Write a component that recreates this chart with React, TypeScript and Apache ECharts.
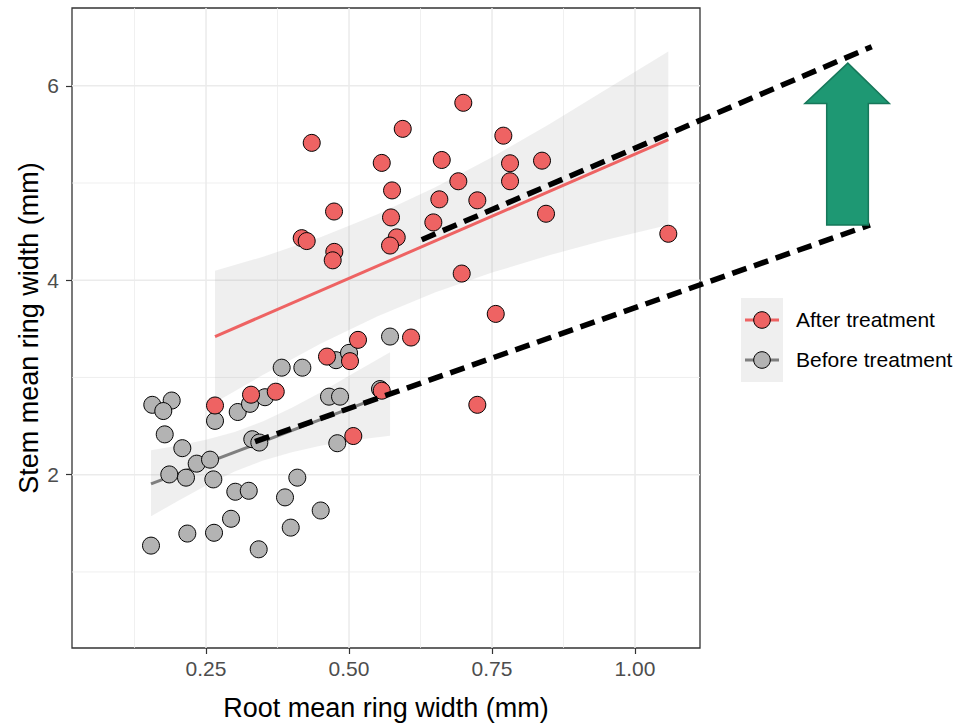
import React, { useEffect, useRef } from "react";
import * as echarts from "echarts";

// ---- Data ----
const afterX = [0.4348, 0.5939, 0.6998, 0.5572, 0.6621, 0.7698, 0.7815, 0.8374, 0.6911, 0.7815, 0.5752, 0.6579, 0.7243, 0.4738, 0.5734, 0.6474, 0.8444, 0.4173, 0.426, 0.5834, 0.5717, 0.4743, 0.4715, 0.697, 0.7565, 0.6084, 0.5157, 0.5017, 0.4615, 0.5572, 0.5075, 0.3719, 0.3287, 0.2657, 1.0582, 0.7243];
const afterY = [5.413, 5.557, 5.825, 5.207, 5.237, 5.487, 5.203, 5.23, 5.018, 5.018, 4.924, 4.832, 4.822, 4.707, 4.646, 4.595, 4.684, 4.433, 4.403, 4.441, 4.357, 4.292, 4.205, 4.069, 3.654, 3.411, 3.387, 3.168, 3.215, 2.864, 2.398, 2.854, 2.823, 2.712, 4.478, 2.719];

const beforeX = [0.1561, 0.19, 0.1753, 0.2657, 0.1778, 0.2086, 0.2337, 0.257, 0.1858, 0.215, 0.2628, 0.3054, 0.3269, 0.3531, 0.3823, 0.4184, 0.4773, 0.5, 0.5717, 0.465, 0.4843, 0.5542, 0.3309, 0.3432, 0.4795, 0.4096, 0.3012, 0.3247, 0.3881, 0.4505, 0.2937, 0.2173, 0.264, 0.3981, 0.1538, 0.3421];
const beforeY = [2.719, 2.763, 2.655, 2.554, 2.415, 2.273, 2.114, 2.155, 2.003, 1.97, 1.952, 2.645, 2.729, 2.797, 3.101, 3.101, 3.178, 3.253, 3.421, 2.803, 2.803, 2.881, 2.365, 2.331, 2.324, 1.97, 1.825, 1.835, 1.767, 1.632, 1.547, 1.395, 1.403, 1.456, 1.271, 1.233];

// fitted lines
const afterFitX = [0.2657, 1.0582];
const afterFitY = [3.421, 5.446];
const beforeFitX = [0.1538, 0.5717];
const beforeFitY = [1.905, 2.84];

// confidence bands
const afterBandX = [0.2657, 0.35, 0.45, 0.55, 0.65, 0.75, 0.85, 0.95, 1.0582];
const afterBandUpper = [4.097, 4.242, 4.442, 4.678, 4.953, 5.265, 5.605, 5.964, 6.352];
const afterBandLower = [2.743, 3.028, 3.346, 3.63, 3.873, 4.079, 4.257, 4.416, 4.568];
const beforeBandX = [0.1538, 0.2, 0.25, 0.3, 0.35, 0.4, 0.45, 0.5, 0.5717];
const beforeBandUpper = [2.252, 2.298, 2.361, 2.44, 2.55, 2.688, 2.846, 3.018, 3.26];
const beforeBandLower = [1.572, 1.728, 1.889, 2.032, 2.147, 2.232, 2.298, 2.35, 2.4];

// dashed annotation lines
const dashUpperX = [0.6271, 1.4138];
const dashUpperY = [4.417, 6.402];
const dashLowerX = [0.3357, 1.4108];
const dashLowerY = [2.341, 4.569];

// arrow annotation (data coordinates)
const arrowX = [1.372, 1.4446, 1.4079, 1.4079, 1.3351, 1.3351, 1.297];
const arrowY = [6.233, 5.818, 5.818, 4.569, 4.569, 5.818, 5.818];

// axes
const xTicks = [0.25, 0.5, 0.75, 1.0];
const xMinor = [0.125, 0.375, 0.625, 0.875];
const yTicks = [2, 4, 6];
const yMinor = [1, 3, 5];
const X_MIN = 0.0157;
const X_MAX = 1.1136;
const Y_MIN = 0.218;
const Y_MAX = 6.8;

const RED = "#EE6363";
const GREY = "#B3B3B3";
const GREY_LINE = "#7F7F7F";
const FONT = "Liberation Sans, Arial, sans-serif";

const zip = (xs: number[], ys: number[]) => xs.map((x, i) => [x, ys[i]]);

export default function App() {
  const ref = useRef<HTMLDivElement>(null);
  useEffect(() => {
    if (!ref.current) return;
    const chart = echarts.init(ref.current, undefined, { renderer: "svg" });

    const bandSeries = (xs: number[], up: number[], lo: number[], name: string) => ({
      type: "custom",
      name,
      silent: true,
      z: 1,
      data: [[xs[0], up[0]]],
      renderItem: (_p: any, api: any) => {
        const pts = [
          ...xs.map((x, i) => api.coord([x, up[i]])),
          ...xs.map((x, i) => api.coord([x, lo[i]])).reverse(),
        ];
        return {
          type: "polygon",
          shape: { points: pts },
          style: { fill: "rgba(153,153,153,0.16)", stroke: "none" },
        };
      },
    });

    const dashSeries = (xs: number[], ys: number[], name: string) => ({
      type: "custom",
      name,
      silent: true,
      clip: false,
      z: 5,
      data: [[xs[0], ys[0]]],
      renderItem: (_p: any, api: any) => {
        const a = api.coord([xs[0], ys[0]]);
        const b = api.coord([xs[1], ys[1]]);
        return {
          type: "line",
          shape: { x1: a[0], y1: a[1], x2: b[0], y2: b[1] },
          style: { stroke: "#000", lineWidth: 5.5, lineDash: [15, 8], lineCap: "butt" },
        };
      },
    });

    const option: any = {
      animation: false,
      backgroundColor: "#ffffff",
      textStyle: { fontFamily: FONT },
      grid: {
        left: 72,
        top: 8,
        width: 628,
        height: 650,
        show: true,
        borderColor: "#333333",
        borderWidth: 1.3,
        backgroundColor: "#ffffff",
        containLabel: false,
      },
      xAxis: {
        type: "value",
        min: X_MIN,
        max: X_MAX,
        name: "Root mean ring width (mm)",
        nameLocation: "middle",
        nameGap: 46,
        nameTextStyle: { fontSize: 27, color: "#000", fontFamily: FONT },
        axisLine: { show: false },
        axisTick: {
          show: true,
          customValues: xTicks,
          length: 6,
          lineStyle: { color: "#333333", width: 1.2 },
        },
        axisLabel: {
          customValues: xTicks,
          formatter: (v: number) => v.toFixed(2),
          fontSize: 21,
          color: "#4D4D4D",
          margin: 10,
          fontFamily: FONT,
        },
        splitLine: { show: false },
      },
      yAxis: {
        type: "value",
        min: Y_MIN,
        max: Y_MAX,
        name: "Stem mean ring width (mm)",
        nameLocation: "middle",
        nameGap: 30,
        nameMoveOverlap: false,
        nameTextStyle: { fontSize: 27, color: "#000", fontFamily: FONT },
        axisLine: { show: false },
        axisTick: {
          show: true,
          customValues: yTicks,
          length: 6,
          lineStyle: { color: "#333333", width: 1.2 },
        },
        axisLabel: {
          customValues: yTicks,
          formatter: (v: number) => String(Math.round(v)),
          fontSize: 21,
          color: "#4D4D4D",
          margin: 13,
          fontFamily: FONT,
        },
        splitLine: { show: false },
      },
      series: [
        {
          type: "custom",
          name: "grid",
          silent: true,
          z: 0,
          data: [[0.5, 3]],
          renderItem: (_p: any, api: any) => {
            const children: any[] = [];
            const vline = (v: number, w: number) => {
              const a = api.coord([v, Y_MIN]);
              const b = api.coord([v, Y_MAX]);
              children.push({ type: "line", shape: { x1: a[0], y1: a[1], x2: b[0], y2: b[1] }, style: { stroke: "#EBEBEB", lineWidth: w } });
            };
            const hline = (v: number, w: number) => {
              const a = api.coord([X_MIN, v]);
              const b = api.coord([X_MAX, v]);
              children.push({ type: "line", shape: { x1: a[0], y1: a[1], x2: b[0], y2: b[1] }, style: { stroke: "#EBEBEB", lineWidth: w } });
            };
            xMinor.forEach((v) => vline(v, 0.8));
            yMinor.forEach((v) => hline(v, 0.8));
            xTicks.forEach((v) => vline(v, 1.5));
            yTicks.forEach((v) => hline(v, 1.5));
            return { type: "group", children };
          },
        },
        bandSeries(afterBandX, afterBandUpper, afterBandLower, "afterBand"),
        bandSeries(beforeBandX, beforeBandUpper, beforeBandLower, "beforeBand"),
        {
          type: "line",
          name: "After fit",
          data: zip(afterFitX, afterFitY),
          symbol: "none",
          z: 2,
          lineStyle: { color: RED, width: 3 },
        },
        {
          type: "line",
          name: "Before fit",
          data: zip(beforeFitX, beforeFitY),
          symbol: "none",
          z: 2,
          lineStyle: { color: GREY_LINE, width: 3 },
        },
        {
          type: "scatter",
          name: "Before treatment",
          data: zip(beforeX, beforeY),
          symbolSize: 17,
          z: 3,
          itemStyle: { color: GREY, borderColor: "#000", borderWidth: 1, opacity: 1 },
        },
        {
          type: "scatter",
          name: "After treatment",
          data: zip(afterX, afterY),
          symbolSize: 17,
          z: 3,
          itemStyle: { color: RED, borderColor: "#000", borderWidth: 1, opacity: 1 },
        },
        dashSeries(dashUpperX, dashUpperY, "dashUpper"),
        dashSeries(dashLowerX, dashLowerY, "dashLower"),
        {
          type: "custom",
          name: "arrow",
          silent: true,
          clip: false,
          z: 6,
          data: [[arrowX[0], arrowY[0]]],
          renderItem: (_p: any, api: any) => ({
            type: "polygon",
            shape: { points: arrowX.map((x, i) => api.coord([x, arrowY[i]])) },
            style: { fill: "#1E9873", stroke: "#16775A", lineWidth: 1.5 },
          }),
        },
      ],
      graphic: [
        {
          type: "group",
          left: 741,
          top: 298,
          children: [
            { type: "rect", shape: { x: 0, y: 0, width: 42, height: 84 }, style: { fill: "#EFEFEF" } },
            { type: "line", shape: { x1: 4, y1: 22, x2: 38, y2: 22 }, style: { stroke: RED, lineWidth: 3 } },
            { type: "circle", shape: { cx: 21, cy: 22, r: 8.3 }, style: { fill: RED, stroke: "#000", lineWidth: 1 } },
            { type: "line", shape: { x1: 4, y1: 62, x2: 38, y2: 62 }, style: { stroke: GREY_LINE, lineWidth: 3 } },
            { type: "circle", shape: { cx: 21, cy: 62, r: 8.3 }, style: { fill: GREY, stroke: "#000", lineWidth: 1 } },
          ],
        },
        {
          type: "text",
          left: 796,
          top: 309,
          style: { text: "After treatment", fontSize: 21, fill: "#000", fontFamily: FONT },
        },
        {
          type: "text",
          left: 796,
          top: 349,
          style: { text: "Before treatment", fontSize: 21, fill: "#000", fontFamily: FONT },
        },
      ],
    };

    chart.setOption(option);
    return () => chart.dispose();
  }, []);

  return (
    <div
      ref={ref}
      style={{ position: "fixed", left: 0, top: 0, width: 959, height: 726, background: "#fff" }}
    />
  );
}
